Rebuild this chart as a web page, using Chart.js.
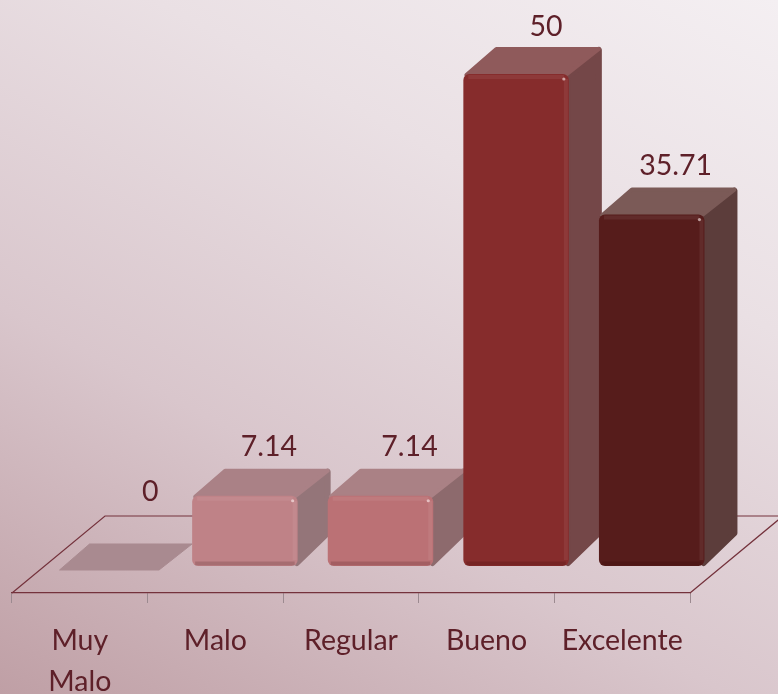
<!DOCTYPE html>
<html><head><meta charset="utf-8">
<style>
html,body{margin:0;padding:0;width:778px;height:694px;overflow:hidden;
background:linear-gradient(208deg,#f4eff2 0%,#eae0e4 30%,#d9c6cc 65%,#bf9fa5 100%);}
#wrap{position:absolute;left:0;top:0;width:778px;height:694px;filter:blur(0.7px);}
</style>
<script src="https://cdn.jsdelivr.net/npm/chart.js@4"></script>
</head><body><div id="wrap"><canvas id="c" width="778" height="694"></canvas></div>
<script>
const categories = [['Muy','Malo'],'Malo','Regular','Bueno','Excelente'];
const values = [0,7.14,7.14,50,35.71];
const valueLabels = ['0','7.14','7.14','50','35.71'];

const frontColors = ['#a98a90','#bf8287','#bb7175','#862c2c','#561c1b'];
const topColors   = ['#a98a90','#aa8186','#aa8185','#8f5a5b','#7b5a57'];
const sideColors  = ['#a98a90','#947579','#8d6a6d','#744748','#5c3d3b'];
const inkColor = '#5e2029';
const fontFamily = 'Lato, Carlito, sans-serif';

const depthX = 33, depthY = 28, barShift = 29.5;
const labelDx = [41,24,29,30,24];
const labelDy = [-74,-49,-49,-47,-49];

function poly(ctx, pts, color, r){
  ctx.beginPath();
  pts.forEach((p,i)=> i?ctx.lineTo(p[0],p[1]):ctx.moveTo(p[0],p[1]));
  ctx.closePath();
  ctx.fillStyle=color; ctx.fill();
  ctx.strokeStyle=color; ctx.lineWidth=r; ctx.lineJoin='round'; ctx.stroke();
}

const box3d = {
  id:'box3d',
  beforeDatasetsDraw(chart){
    const {ctx,chartArea:a} = chart;
    ctx.save();
    ctx.strokeStyle='#74323c'; ctx.lineWidth=1.2;
    ctx.beginPath();
    ctx.moveTo(a.left,a.bottom); ctx.lineTo(a.left+93,a.bottom-77); ctx.lineTo(a.right+93,a.bottom-77); ctx.lineTo(a.right,a.bottom);
    ctx.stroke();
    ctx.restore();
    ctx.save();
    ctx.translate(barShift,0);
    chart.getDatasetMeta(0).data.forEach((el,i)=>{
      const x0=el.x-el.width/2, x1=el.x+el.width/2;
      const flat = Math.abs(el.base-el.y)<1;
      const yt = flat ? el.y+3 : el.y, yb = flat ? el.y+3 : el.base;
      const ins = 3;
      if(!flat){
        poly(ctx,[[x1-1,yt+ins],[x1+depthX-ins,yt-depthY+ins+1],[x1+depthX-ins,yb-depthY-ins-2],[x1-1,yb-ins]],sideColors[i],6);
      }
      poly(ctx,[[x0+ins,yt+1],[x0+depthX,yt-depthY+ins],[x1+depthX-ins,yt-depthY+ins],[x1-ins,yt+1]],topColors[i],flat?1:4);
    });
  },
  afterDatasetsDraw(chart){
    const {ctx} = chart;
    chart.getDatasetMeta(0).data.forEach((el,i)=>{
      if(Math.abs(el.base-el.y)<1) return;
      const x0=el.x-el.width/2, x1=el.x+el.width/2;
      ctx.lineWidth=4;
      ctx.strokeStyle='rgba(255,235,235,0.07)';
      ctx.beginPath(); ctx.moveTo(x0+5,el.y+3); ctx.lineTo(x1-5,el.y+3); ctx.moveTo(x1-3,el.y+5); ctx.lineTo(x1-3,el.base-6); ctx.stroke();
      ctx.strokeStyle='rgba(40,0,0,0.16)';
      ctx.beginPath(); ctx.moveTo(x0+3,el.base-2.5); ctx.lineTo(x1-3,el.base-2.5); ctx.stroke();
      ctx.fillStyle='rgba(255,240,240,0.6)';
      ctx.beginPath(); ctx.arc(x1-5,el.y+5,1.6,0,Math.PI*2); ctx.fill();
    });
    ctx.restore();
    ctx.save();
    ctx.font='28.5px '+fontFamily; ctx.fillStyle=inkColor; ctx.textAlign='center'; ctx.textBaseline='middle';
    chart.getDatasetMeta(0).data.forEach((el,i)=>{
      ctx.fillText(valueLabels[i], el.x+barShift+labelDx[i], el.y+labelDy[i]);
    });
    ctx.restore();
  }
};

new Chart(document.getElementById('c'),{
  type:'bar',
  data:{labels:categories,datasets:[{
    data:values, backgroundColor:frontColors,
    barPercentage:1, categoryPercentage:0.778,
    borderRadius:6, borderSkipped:false, clip:false
  }]},
  plugins:[box3d],
  options:{
    responsive:false, animation:false,
    layout:{padding:{left:12,right:88,top:74,bottom:0}},
    plugins:{legend:{display:false},tooltip:{enabled:false},title:{display:false}},
    scales:{
      x:{
        grid:{drawOnChartArea:false,drawTicks:true,tickLength:10,color:'#9c8a90',tickColor:'#9c8a90'},
        border:{display:true,color:'#74323c',width:1.2},
        ticks:{color:inkColor,font:{family:fontFamily,size:28.5,lineHeight:1.44},padding:17,maxRotation:0,autoSkip:false},
        afterFit(s){s.height=101;}
      },
      y:{display:false,min:-2.744,max:50}
    }
  }
});
</script></body></html>
